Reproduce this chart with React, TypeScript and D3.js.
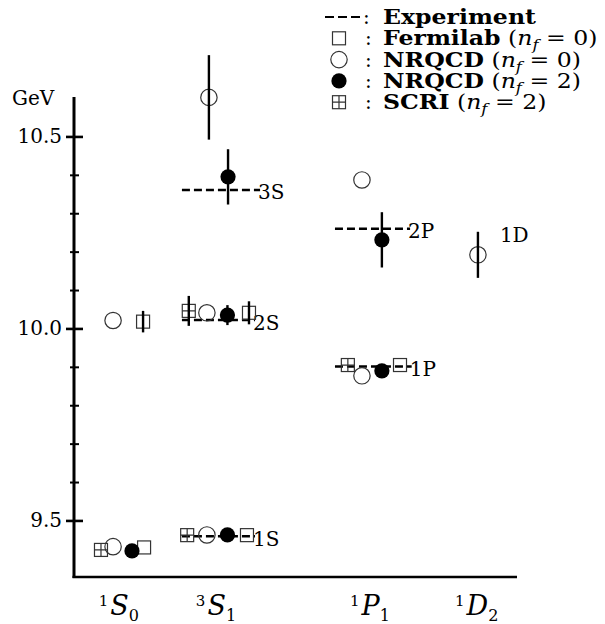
import { useEffect, useRef } from 'react';
import * as d3 from 'd3';

// y axis ticks (GeV)
const majorTicks = [9.5, 10.0, 10.5];
const minorTicks = [9.6, 9.7, 9.8, 9.9, 10.1, 10.2, 10.3, 10.4];

// channel labels along the bottom
const catSup = ['1', '3', '1', '1'];
const catLetter = ['S', 'S', 'P', 'D'];
const catSub = ['0', '1', '1', '2'];
const catX = [2.23, 7.05, 14.7, 20.0];

// experimental levels (dashed lines)
const expName = ['1S', '2S', '3S', '1P', '2P'];
const expMass = [9.460, 10.023, 10.362, 9.902, 10.261];
const expStart = [5.36, 5.36, 5.36, 12.96, 12.96];
const expEnd = [8.99, 8.99, 9.24, 16.77, 16.69];

// Fermilab (nf = 0)
const fermiX = [3.48, 3.43, 8.59, 8.69, 16.19];
const fermiM = [9.431, 10.019, 9.463, 10.042, 9.906];
const fermiErr = [0, 0.028, 0, 0.03, 0];

// NRQCD (nf = 0)
const nrqcd0X = [1.94, 1.94, 6.6, 6.6, 6.7, 14.3, 14.3, 20.06];
const nrqcd0M = [9.433, 10.022, 9.4635, 10.042, 10.603, 9.878, 10.388, 10.193];
const nrqcd0Err = [0, 0, 0, 0, 0.11, 0, 0, 0.06];

// NRQCD (nf = 2)
const nrqcd2X = [2.88, 7.62, 7.62, 7.65, 15.29, 15.29];
const nrqcd2M = [9.422, 9.4635, 10.036, 10.396, 9.891, 10.232];
const nrqcd2Err = [0, 0, 0.026, 0.072, 0, 0.072];

// SCRI (nf = 2)
const scriX = [1.34, 5.62, 5.7, 13.6];
const scriM = [9.4245, 9.463, 10.047, 9.906];
const scriErr = [0, 0, 0.039, 0];

// 1D label next to the D-wave point
const dLabel = '1D';
const dLabelX = 21.15;
const dLabelM = 10.227;

const legendNames = ['Experiment', 'Fermilab', 'NRQCD', 'NRQCD', 'SCRI'];
const legendNf = ['', '0', '0', '2', '2'];
const legendKinds = ['dash', 'square', 'open', 'filled', 'scri'];

const serif = "'DejaVu Serif', serif";

function drawMarker(g: any, kind: string, cx: number, cy: number) {
  const s = 6.5;
  if (kind === 'square' || kind === 'scri') {
    g.append('rect')
      .attr('x', cx - s).attr('y', cy - s)
      .attr('width', 2 * s).attr('height', 2 * s)
      .attr('fill', 'none').attr('stroke', '#333').attr('stroke-width', 1.2);
    if (kind === 'scri') {
      g.append('path')
        .attr('d', `M${cx - s},${cy}H${cx + s}M${cx},${cy - s}V${cy + s}`)
        .attr('stroke', '#333').attr('stroke-width', 1.2);
    }
  } else if (kind === 'open') {
    g.append('circle').attr('cx', cx).attr('cy', cy).attr('r', 8.2)
      .attr('fill', 'none').attr('stroke', '#333').attr('stroke-width', 1.2);
  } else if (kind === 'filled') {
    g.append('circle').attr('cx', cx).attr('cy', cy).attr('r', 7.6).attr('fill', '#000');
  }
}

const UpsilonChart = () => {
  const chartRef = useRef(null);

  useEffect(() => {
    d3.select(chartRef.current).selectAll('svg').remove();
    const width = 605;
    const height = 624;

    const svg = d3.select(chartRef.current)
      .append('svg')
      .attr('width', width)
      .attr('height', height)
      .style('position', 'absolute')
      .style('left', 0)
      .style('top', 0)
      .style('background', '#fff');

    const x = d3.scaleLinear().domain([0, 22]).range([74, 517]);
    const y = d3.scaleLinear().domain([9.354, 10.604]).range([577, 97]);

    // axes
    svg.append('line')
      .attr('x1', x(0)).attr('x2', x(0))
      .attr('y1', y(10.604)).attr('y2', y(9.354) + 1)
      .attr('stroke', '#000').attr('stroke-width', 3);
    svg.append('line')
      .attr('x1', x(0) - 1.5).attr('x2', x(22))
      .attr('y1', y(9.354)).attr('y2', y(9.354))
      .attr('stroke', '#000').attr('stroke-width', 2.6);

    svg.selectAll('.major')
      .data(majorTicks)
      .enter()
      .append('line')
      .attr('x1', x(0) - 8).attr('x2', x(0) + 9)
      .attr('y1', d => y(d)).attr('y2', d => y(d))
      .attr('stroke', '#000').attr('stroke-width', 2.6);
    svg.selectAll('.minor')
      .data(minorTicks)
      .enter()
      .append('line')
      .attr('x1', x(0) - 4).attr('x2', x(0) + 5)
      .attr('y1', d => y(d)).attr('y2', d => y(d))
      .attr('stroke', '#000').attr('stroke-width', 2);
    svg.selectAll('.ticklabel')
      .data(majorTicks)
      .enter()
      .append('text')
      .attr('x', x(0) - 12)
      .attr('y', d => y(d) + 6)
      .attr('text-anchor', 'end')
      .attr('font-family', serif)
      .attr('font-size', 20)
      .text(d => d.toFixed(1));
    svg.append('text')
      .attr('x', 12).attr('y', 105)
      .attr('font-family', serif).attr('font-size', 20)
      .text('GeV');

    // channel labels
    catLetter.forEach((L, i) => {
      const t = svg.append('text')
        .attr('x', x(catX[i])).attr('y', 615)
        .attr('text-anchor', 'middle')
        .attr('font-family', serif);
      t.append('tspan').attr('font-size', 15).attr('dy', -9).text(catSup[i]);
      t.append('tspan').attr('font-size', 27).attr('font-style', 'italic').attr('dy', 9).attr('dx', 2).text(L);
      t.append('tspan').attr('font-size', 16).attr('dy', 6).text(catSub[i]);
    });

    // experimental dashed lines
    expName.forEach((name, i) => {
      svg.append('line')
        .attr('x1', x(expStart[i])).attr('x2', x(expEnd[i]))
        .attr('y1', y(expMass[i])).attr('y2', y(expMass[i]))
        .attr('stroke', '#000').attr('stroke-width', 2.5)
        .attr('stroke-dasharray', '8 4');
      svg.append('text')
        .attr('x', x(expEnd[i]) - 2).attr('y', y(expMass[i]) + 9.5)
        .attr('font-family', serif).attr('font-size', 20)
        .text(name);
    });
    svg.append('text')
      .attr('x', x(dLabelX)).attr('y', y(dLabelM))
      .attr('font-family', serif).attr('font-size', 20)
      .text(dLabel);

    const series = [
      { kind: 'square', xs: fermiX, ms: fermiM, es: fermiErr },
      { kind: 'open', xs: nrqcd0X, ms: nrqcd0M, es: nrqcd0Err },
      { kind: 'filled', xs: nrqcd2X, ms: nrqcd2M, es: nrqcd2Err },
      { kind: 'scri', xs: scriX, ms: scriM, es: scriErr },
    ];
    const marks = svg.append('g');
    series.forEach(s => {
      s.xs.forEach((xv, i) => drawMarker(marks, s.kind, x(xv), y(s.ms[i])));
    });
    series.forEach(s => {
      s.xs.forEach((xv, i) => {
        if (s.es[i] > 0) {
          marks.append('line')
            .attr('x1', x(xv)).attr('x2', x(xv))
            .attr('y1', y(s.ms[i] - s.es[i])).attr('y2', y(s.ms[i] + s.es[i]))
            .attr('stroke', '#000').attr('stroke-width', 2.4);
        }
      });
    });

    // legend (text is stretched sideways like the original figure)
    const leg = svg.append('g');
    legendNames.forEach((name, i) => {
      const base = 24 + i * 21.3;
      const kind = legendKinds[i];
      if (kind === 'dash') {
        leg.append('line')
          .attr('x1', 325).attr('x2', 362)
          .attr('y1', base - 7).attr('y2', base - 7)
          .attr('stroke', '#000').attr('stroke-width', 2)
          .attr('stroke-dasharray', '9 4');
      } else {
        drawMarker(leg, kind, 339, base - 7);
      }
      leg.append('text')
        .attr('x', kind === 'dash' ? 363 : 365).attr('y', base)
        .attr('font-family', serif).attr('font-size', 20)
        .text(':');
      const t = leg.append('text')
        .attr('transform', `translate(383,${base}) scale(1.18,1)`)
        .attr('font-family', serif).attr('font-size', 20);
      t.append('tspan').attr('font-weight', 'bold').text(name);
      if (legendNf[i]) {
        t.append('tspan').text(' (');
        t.append('tspan').attr('font-style', 'italic').text('n');
        t.append('tspan').attr('font-style', 'italic').attr('font-size', 14).attr('dy', 5).text('f');
        t.append('tspan').attr('dy', -5).text(` = ${legendNf[i]})`);
      }
    });
  }, []);

  return (
    <div>
      <div ref={chartRef}></div>
    </div>
  );
};

export default function App() {
  return <UpsilonChart />;
}
